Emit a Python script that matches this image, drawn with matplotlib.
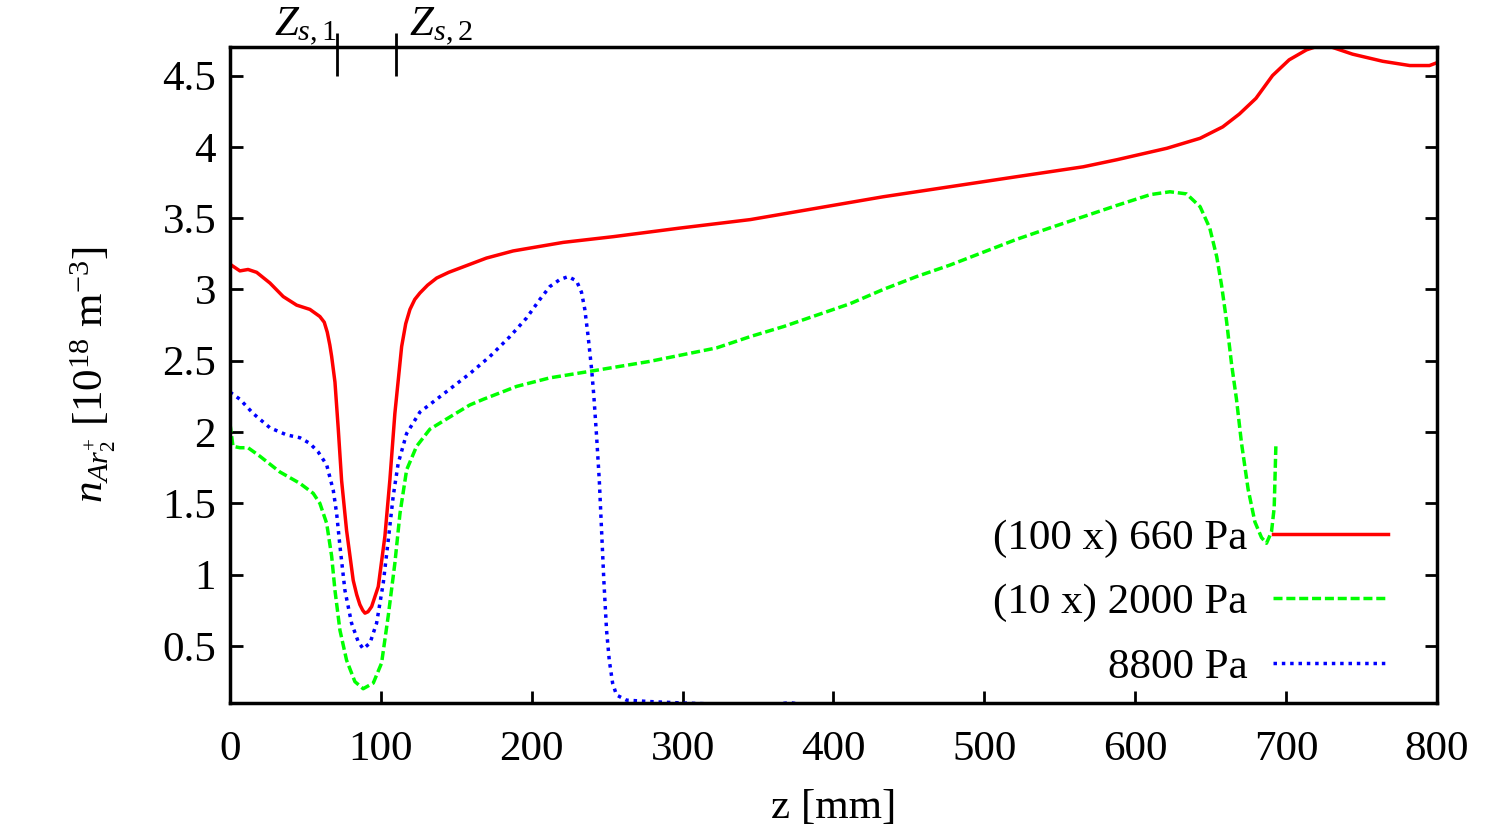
import matplotlib
matplotlib.use("Agg")
import matplotlib.pyplot as plt
from matplotlib.ticker import FuncFormatter, FixedLocator

plt.rcParams['font.family'] = ['Liberation Serif', 'DejaVu Serif']
plt.rcParams['mathtext.fontset'] = 'custom'
plt.rcParams['mathtext.rm'] = 'Liberation Serif'
plt.rcParams['mathtext.it'] = 'Liberation Serif:italic'

# 660 Pa (x100)
z_660 = [0, 1, 6.6, 12, 17.7, 26.5, 35.3, 44.2, 53, 59.6, 62.5, 64.5, 66.2, 67.4, 69.6,
         71.8, 74, 77.3, 81.7, 84, 86.1, 88, 89.5, 91.5, 93.9, 98.3, 102.7, 106, 109.3,
         113.8, 116.5, 119.3, 122.5, 125.9, 131, 137, 145, 155, 170, 187.7, 220.9, 254,
         298, 345, 389, 433, 477, 521, 565.5, 588, 621, 643, 658, 669, 680, 691, 702,
         713.5, 722, 730, 744, 764, 782, 795, 800]
n_660 = [3.18, 3.17, 3.13, 3.14, 3.12, 3.045, 2.95, 2.89, 2.86, 2.81, 2.77, 2.70, 2.61,
         2.53, 2.35, 2.02, 1.66, 1.31, 0.96, 0.86, 0.79, 0.75, 0.73, 0.74, 0.776, 0.916,
         1.27, 1.665, 2.13, 2.60, 2.76, 2.86, 2.93, 2.975, 3.03, 3.08, 3.12, 3.16, 3.22,
         3.27, 3.33, 3.37, 3.43, 3.49, 3.57, 3.65, 3.72, 3.79, 3.86, 3.91, 3.99, 4.06,
         4.14, 4.23, 4.34, 4.50, 4.61, 4.68, 4.71, 4.70, 4.65, 4.60, 4.57, 4.57, 4.59]

# 2000 Pa (x10)
z_2000 = [0, 2, 6.6, 12, 19.9, 33.1, 46.4, 55.2, 59.6, 64.1, 67.4, 69.6, 72.9, 77.3,
          82.8, 88.3, 95, 100.5, 104.9, 109.3, 112.7, 117.1, 123.7, 132.5, 148, 159, 168,
          190, 212, 241, 278, 322.5, 345, 367, 389, 411, 433, 455, 477, 499, 521, 543,
          565.5, 588, 610, 623, 634, 643, 649.4, 654, 657.2, 660.5, 663.8, 667.1, 670.4,
          674.8, 679.3, 683.7, 687, 690.3, 692.1, 693.2]
n_2000 = [2.06, 1.90, 1.89, 1.89, 1.83, 1.72, 1.64, 1.57, 1.50, 1.36, 1.13, 0.89, 0.61,
          0.40, 0.25, 0.20, 0.24, 0.38, 0.71, 1.08, 1.43, 1.735, 1.90, 2.02, 2.12, 2.19,
          2.23, 2.32, 2.38, 2.43, 2.495, 2.59, 2.67, 2.74, 2.82, 2.90, 3.00, 3.09, 3.17,
          3.26, 3.35, 3.43, 3.51, 3.59, 3.665, 3.685, 3.67, 3.58, 3.43, 3.23, 3.03, 2.78,
          2.48, 2.23, 1.925, 1.60, 1.37, 1.26, 1.22, 1.30, 1.47, 1.90]

# 8800 Pa
z_8800 = [0, 6.6, 15.4, 26.5, 37.6, 46.4, 53, 58.5, 64.1, 68.5, 70.7, 72.9, 76.2, 80.6,
          85, 88.3, 92.8, 97.2, 101.6, 104.9, 108.2, 111.5, 117.1, 125.9, 137, 148, 159,
          172.3, 185.6, 196.6, 205.4, 212, 218.7, 224.2, 229.7, 233, 235.2, 237.4, 239.7,
          241.2, 243, 244.8, 246.3, 247.8, 249.6, 251.4, 253.6, 256.2, 262.8, 278.3, 300,
          315, 360, 371, 380, 400]
n_8800 = [2.28, 2.23, 2.13, 2.03, 1.98, 1.96, 1.92, 1.86, 1.77, 1.59, 1.43, 1.20, 0.89,
          0.66, 0.53, 0.48, 0.52, 0.66, 0.94, 1.24, 1.55, 1.78, 1.99, 2.14, 2.23, 2.32,
          2.41, 2.53, 2.67, 2.80, 2.93, 3.02, 3.07, 3.09, 3.06, 2.98, 2.86, 2.67, 2.44,
          2.25, 1.97, 1.66, 1.31, 0.96, 0.61, 0.40, 0.24, 0.156, 0.12, 0.11, 0.10, 0.095,
          0.09, 0.102, 0.09, 0.085]

zs_pos = [71, 110]
zs_labels = [r'$Z_{\mathit{s,1}}$', r'$\;\,Z_{\mathit{s,2}}$']

fs = 31
fig = plt.figure(figsize=(15, 8.38), dpi=100)
ax = fig.add_axes([0.1533, 0.1611, 0.8047, 0.7828])

ax.plot(z_660, n_660, color='#ff0000', lw=2.5, label='(100 x) 660 Pa')
ax.plot(z_2000, n_2000, color='#00ff00', lw=2.5, dashes=(2.6, 1.1), label='(10 x) 2000 Pa')
ax.plot(z_8800, n_8800, color='#0000ff', lw=2.5, dashes=(1.0, 1.4), label='8800 Pa')

ax.set_xlim(0, 800)
ax.set_ylim(0.1, 4.7)
ax.set_xticks(range(0, 801, 100))
ax.set_yticks([0.5, 1, 1.5, 2, 2.5, 3, 3.5, 4, 4.5])
ax.yaxis.set_major_formatter(FuncFormatter(lambda v, p: '%g' % v))
ax.tick_params(direction='in', top=True, right=True, length=9, width=2,
               labelsize=fs)
ax.tick_params(axis='x', pad=20)
ax.tick_params(axis='y', pad=10)
for s in ax.spines.values():
    s.set_linewidth(2.5)

ax.set_xlabel('z [mm]', fontsize=fs, labelpad=14)
ax.set_ylabel(r'$n_{Ar_2^{+}}$ [10$^{18}$ m$^{-3}$]', fontsize=fs, labelpad=32)

# Z_s markers on the top axis
ax2 = ax.twiny()
ax2.set_xlim(ax.get_xlim())
ax2.xaxis.remove_overlapping_locs = False
ax2.set_xticks(zs_pos)
ax2.set_xticklabels(zs_labels)
ax2.xaxis.set_minor_locator(FixedLocator(zs_pos))
ax2.tick_params(which='major', direction='in', length=21, width=2, labelsize=fs, pad=-1)
ax2.tick_params(which='minor', direction='out', length=10, width=2)
lbls = ax2.get_xticklabels()
lbls[0].set_ha('right')
lbls[1].set_ha('left')
for s in ax2.spines.values():
    s.set_visible(False)

ax.legend(loc='lower right', bbox_to_anchor=(0.959, 0.025), markerfirst=False,
          frameon=False, fontsize=fs, handlelength=2.65, handletextpad=0.6,
          labelspacing=0.58, borderpad=0, borderaxespad=0)

fig.savefig('out.png', dpi=100)
